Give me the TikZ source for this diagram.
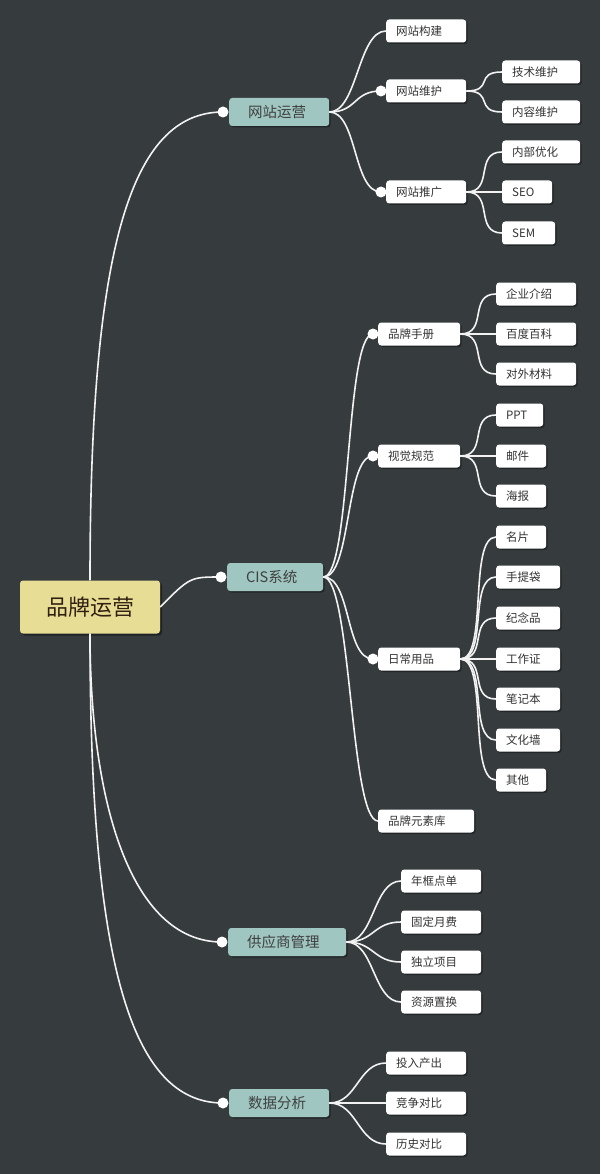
\documentclass[tikz,border=0pt]{standalone}
\usepackage{fontspec}
\setmainfont{Noto Sans CJK SC}
\usetikzlibrary{shadows}
\definecolor{bgc}{HTML}{363B3E}
\definecolor{rootc}{HTML}{E8DD95}
\definecolor{mainc}{HTML}{9FC6C0}
\definecolor{linec}{HTML}{F2F2F2}
\tikzset{
  leaf/.style={draw=none, fill=white, rounded corners=3pt, anchor=west, align=left,
    inner xsep=10pt, minimum height=23pt, font=\fontsize{11.5}{12}\selectfont, text=black!80,
    drop shadow={shadow xshift=1.5pt, shadow yshift=-1.5pt, fill=black, opacity=0.35}},
  topic/.style={leaf, fill=mainc, minimum height=28pt, inner xsep=19pt,
    font=\fontsize{14.5}{15}\selectfont, text=black!75},
  link/.style={linec, line width=1.6pt},
  knob/.style={circle, fill=white, draw=none, inner sep=0pt, minimum size=11pt}
}
\newcommand{\twig}[2]{\draw[link] (#1.east) .. controls +(28,0) and +(-28,0) .. (#2.west);}
\newcommand{\twigk}[2]{\draw[link] (#1.east) .. controls +(28,0) and +(-28,0) .. ([xshift=-5pt]#2.west);
  \node[knob] at ([xshift=-5pt]#2.west) {};}
\begin{document}
\begin{tikzpicture}[x=1pt,y=-1pt]
\fill[bgc] (0,0) rectangle (600,1174);
\useasboundingbox (0,0) rectangle (600,1174);

% root
\node[fill=rootc, rounded corners=3pt, minimum width=140pt, minimum height=53pt,
  font=\fontsize{22}{24}\selectfont, text=black!75!brown,
  drop shadow={shadow xshift=2pt, shadow yshift=-2pt, fill=black, opacity=0.4}]
  (root) at (90,607) {品牌运营};

% main topics
\node[topic, text width=62pt] (web) at (229,112) {网站运营};
\node[topic, text width=58pt] (cis) at (227,577) {CIS系统};
\node[topic, text width=80pt] (sup) at (228,942) {供应商管理};
\node[topic, text width=62pt] (dat) at (229,1103) {数据分析};

% second level
\foreach \n/\x/\y/\w/\t in {wb/386/31/60/网站构建, wm/386/91/60/网站维护, wp/386/192/60/网站推广,
  wm1/502/72/58/技术维护, wm2/502/112/58/内容维护, wp1/502/152/58/内部优化,
  wp2/502/192/30/SEO, wp3/502/233/33/SEM,
  cm/378/334/62/品牌手册, cv/378/456/62/视觉规范, cd/378/659/62/日常用品, ce/378/821/76/品牌元素库,
  cm1/496/294/60/企业介绍, cm2/496/334/60/百度百科, cm3/496/374/60/对外材料,
  cv1/496/415/27/PPT, cv2/496/456/30/邮件, cv3/496/496/30/海报,
  cd1/496/537/30/名片, cd2/496/577/44/手提袋, cd3/496/618/44/纪念品, cd4/496/659/44/工作证,
  cd5/496/699/44/笔记本, cd6/496/740/44/文化墙, cd7/496/780/30/其他,
  s1/401/881/60/年框点单, s2/401/922/60/固定月费, s3/401/962/60/独立项目, s4/401/1002/60/资源置换,
  d1/386/1063/60/投入产出, d2/386/1103/60/竞争对比, d3/386/1144/60/历史对比}
  {\node[leaf, text width=\w pt] (\n) at (\x,\y) {\t};}

% connectors from root
\draw[link] (root.north) .. controls (90,250) and (130,112) .. ([xshift=-6pt]web.west);
\draw[link] (root.east) .. controls (190,577) .. ([xshift=-6pt]cis.west);
\draw[link] (root.south) .. controls (90,800) and (130,942) .. ([xshift=-6pt]sup.west);
\draw[link] (root.south) .. controls (90,960) and (130,1103) .. ([xshift=-6pt]dat.west);
\foreach \t in {web,cis,sup,dat} {\node[knob] at ([xshift=-6pt]\t.west) {};}

% connectors
\twig{web}{wb} \twigk{web}{wm} \twigk{web}{wp}
\twig{wm}{wm1} \twig{wm}{wm2}
\twig{wp}{wp1} \twig{wp}{wp2} \twig{wp}{wp3}
\twigk{cis}{cm} \twigk{cis}{cv} \twigk{cis}{cd} \twig{cis}{ce}
\foreach \c in {cm1,cm2,cm3} {\twig{cm}{\c}}
\foreach \c in {cv1,cv2,cv3} {\twig{cv}{\c}}
\foreach \c in {cd1,cd2,cd3,cd4,cd5,cd6,cd7} {\twig{cd}{\c}}
\foreach \c in {s1,s2,s3,s4} {\twig{sup}{\c}}
\foreach \c in {d1,d2,d3} {\twig{dat}{\c}}
\end{tikzpicture}
\end{document}
